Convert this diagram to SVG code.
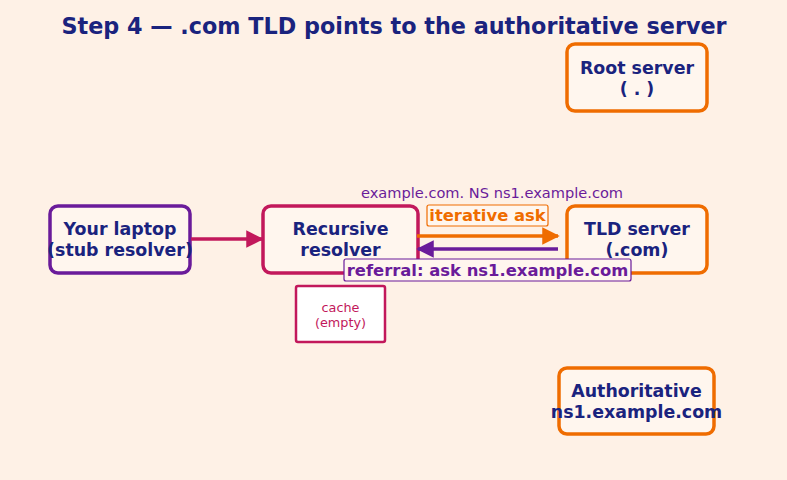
<svg xmlns="http://www.w3.org/2000/svg" width="787" height="480" viewBox="0 0 787 480">
<defs>
<marker id="ah-crimson" viewBox="0 0 10 10" refX="9" refY="5" markerWidth="5" markerHeight="5" orient="auto" markerUnits="strokeWidth"><path d="M0,0 L10,5 L0,10 z" fill="#c2185b"/></marker>
<marker id="ah-orange" viewBox="0 0 10 10" refX="9" refY="5" markerWidth="5" markerHeight="5" orient="auto" markerUnits="strokeWidth"><path d="M0,0 L10,5 L0,10 z" fill="#ef6c00"/></marker>
<marker id="ah-purple" viewBox="0 0 10 10" refX="9" refY="5" markerWidth="5" markerHeight="5" orient="auto" markerUnits="strokeWidth"><path d="M0,0 L10,5 L0,10 z" fill="#6a1b9a"/></marker>
</defs>
<style>
.node{fill:#fff6ee;stroke-width:3.5}
.lbl{font-family:"DejaVu Sans",sans-serif;font-weight:bold;font-size:17.4px;fill:#1a237e;text-anchor:middle}
.title{font-family:"DejaVu Sans",sans-serif;font-weight:bold;font-size:22.3px;fill:#1a237e;text-anchor:middle}
.edge{fill:none;stroke-width:3.5}
.elbl{font-family:"DejaVu Sans",sans-serif;font-weight:bold;font-size:16.4px;text-anchor:middle}
.small{font-family:"DejaVu Sans",sans-serif;font-size:12.8px;fill:#c2185b;text-anchor:middle}
</style>
<rect width="787" height="480" fill="#fef1e6"/>
<text class="title" x="394" y="34">Step 4 — .com TLD points to the authoritative server</text>

<g id="laptop">
<rect class="node" x="50" y="206" width="140" height="67" rx="8" stroke="#6a1b9a"/>
<text class="lbl" x="120" y="235">Your laptop</text>
<text class="lbl" x="120" y="256">(stub resolver)</text>
</g>

<g id="recursive">
<rect class="node" x="263" y="206" width="155" height="67" rx="8" stroke="#c2185b"/>
<text class="lbl" x="340.5" y="235">Recursive</text>
<text class="lbl" x="340.5" y="256">resolver</text>
</g>

<g id="cache">
<rect x="296" y="286" width="89" height="56" rx="2" fill="#ffffff" stroke="#c2185b" stroke-width="2.5"/>
<text class="small" x="340.5" y="312">cache</text>
<text class="small" x="340.5" y="327">(empty)</text>
</g>

<g id="tld">
<rect class="node" x="567" y="206" width="140" height="67" rx="8" stroke="#ef6c00"/>
<text class="lbl" x="637" y="235">TLD server</text>
<text class="lbl" x="637" y="256">(.com)</text>
</g>

<g id="root">
<rect class="node" x="567" y="44" width="140" height="67" rx="8" stroke="#ef6c00"/>
<text class="lbl" x="637" y="74">Root server</text>
<text class="lbl" x="637" y="95">( . )</text>
</g>

<g id="authoritative">
<rect class="node" x="559" y="368" width="155" height="66" rx="8" stroke="#ef6c00"/>
<text class="lbl" x="636.5" y="397">Authoritative</text>
<text class="lbl" x="636.5" y="418">ns1.example.com</text>
</g>

<g id="connectors">
<line class="edge" x1="191" y1="239" x2="262" y2="239" stroke="#c2185b" marker-end="url(#ah-crimson)"/>
<line class="edge" x1="417" y1="236" x2="558" y2="236" stroke="#ef6c00" marker-end="url(#ah-orange)"/>
<line class="edge" x1="558" y1="249" x2="418" y2="249" stroke="#6a1b9a" marker-end="url(#ah-purple)"/>
<text x="492" y="198" font-family="DejaVu Sans, sans-serif" font-size="14.6" fill="#6a1b9a" text-anchor="middle">example.com. NS ns1.example.com</text>
<rect x="427" y="205" width="121" height="21" rx="2" fill="#fff6ee" stroke="#ef6c00" stroke-width="1.2"/>
<text class="elbl" x="487.5" y="221" fill="#ef6c00">iterative ask</text>
<rect x="344" y="259" width="287" height="22" rx="2" fill="#fff6ee" stroke="#6a1b9a" stroke-width="1.2"/>
<text class="elbl" x="487.5" y="276" fill="#6a1b9a">referral: ask ns1.example.com</text>
</g>
</svg>
